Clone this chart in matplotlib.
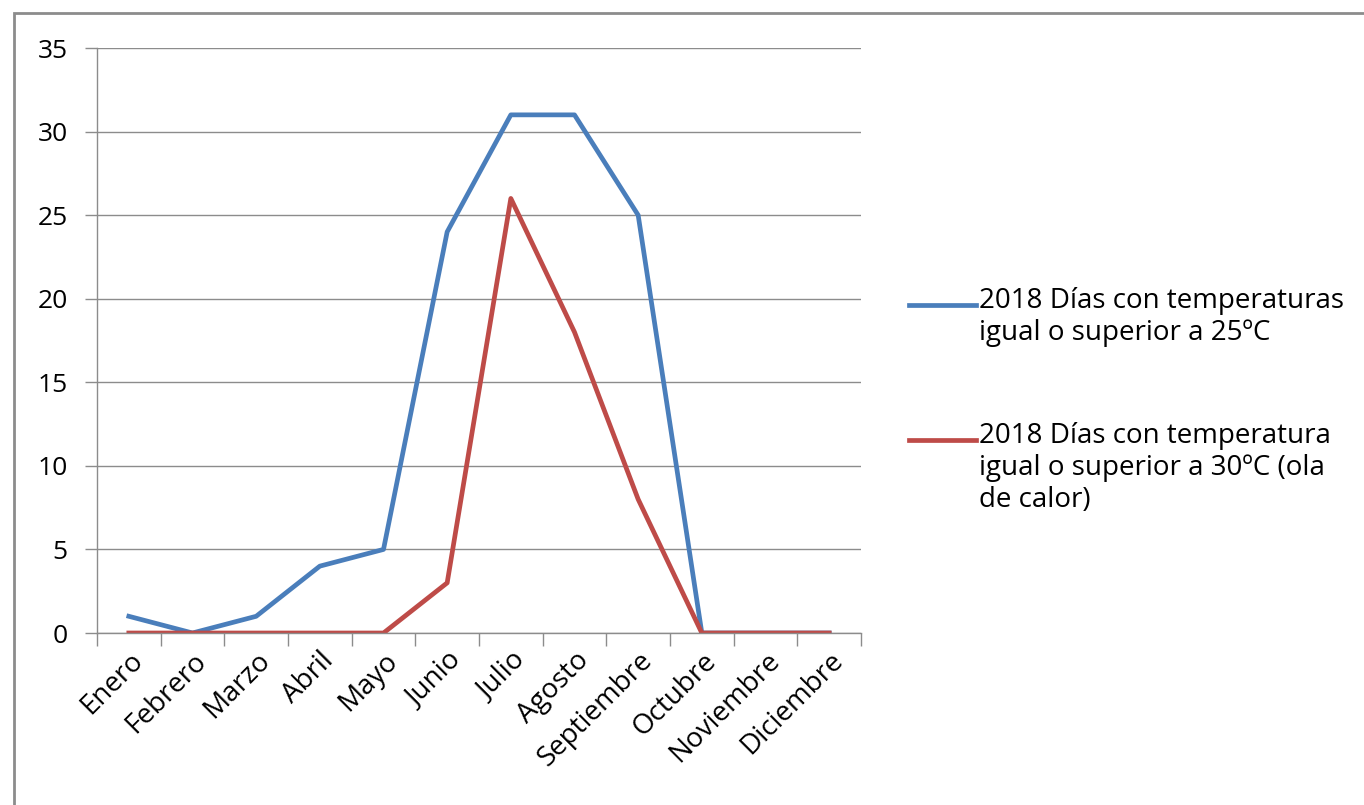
import matplotlib.pyplot as plt
from matplotlib.lines import Line2D
from matplotlib.patches import Rectangle

plt.rcParams['font.family'] = ['Open Sans', 'DejaVu Sans']

meses = ['Enero', 'Febrero', 'Marzo', 'Abril', 'Mayo', 'Junio', 'Julio',
         'Agosto', 'Septiembre', 'Octubre', 'Noviembre', 'Diciembre']
dias_25 = [1, 0, 1, 4, 5, 24, 31, 31, 25, 0, 0, 0]
dias_30 = [0, 0, 0, 0, 0, 3, 26, 18, 8, 0, 0, 0]
etiqueta_25 = '2018 Días con temperaturas\nigual o superior a 25ºC'
etiqueta_30 = '2018 Días con temperatura\nigual o superior a 30ºC (ola\nde calor)'
azul = '#4A7EBB'
rojo = '#BE4B48'
gris = '#8c8c8c'

W, H = 1364, 805
fig = plt.figure(figsize=(W / 100, H / 100), dpi=100)
# marco exterior del gráfico
fig.patches.append(Rectangle((14 / W, -0.1), 1.2, 0.1 + (H - 13) / H,
                             transform=fig.transFigure, fill=False,
                             edgecolor=gris, linewidth=2))

ax = fig.add_axes([97 / W, 172 / H, 764 / W, 585 / H])
x = range(len(meses))
ax.plot(x, dias_25, color=azul, linewidth=3.4)
ax.plot(x, dias_30, color=rojo, linewidth=3.4)

ax.set_xlim(-0.5, len(meses) - 0.5)
ax.set_ylim(0, 35)
ax.set_yticks(range(0, 36, 5))
ax.yaxis.grid(True, color=gris, linewidth=1)
ax.set_axisbelow(True)
ax.set_xticks(x)
ax.set_xticklabels(meses, rotation=45, ha='right', va='top',
                   rotation_mode='anchor', fontsize=20)
ax.set_xticks([i - 0.5 for i in range(len(meses) + 1)], minor=True)
ax.tick_params(axis='x', which='major', length=0, pad=10)
ax.tick_params(axis='x', which='minor', length=9, color=gris, width=1)
ax.tick_params(axis='y', length=9, color=gris, width=1,
               labelsize=19, pad=12)
for s in ['top', 'right']:
    ax.spines[s].set_visible(False)
for s in ['left', 'bottom']:
    ax.spines[s].set_color(gris)
    ax.spines[s].set_linewidth(1)

# leyenda: trazo alineado con la primera línea del texto
for y_px, color, texto in [(305, azul, etiqueta_25), (440, rojo, etiqueta_30)]:
    yf = 1 - y_px / H
    fig.add_artist(Line2D([909 / W, 976 / W], [yf, yf], color=color,
                          linewidth=3.4, transform=fig.transFigure))
    fig.text(979 / W, yf + 18 / H, texto, fontsize=20, va='top', ha='left',
             linespacing=1.18)

fig.savefig('out.png', dpi=100)
